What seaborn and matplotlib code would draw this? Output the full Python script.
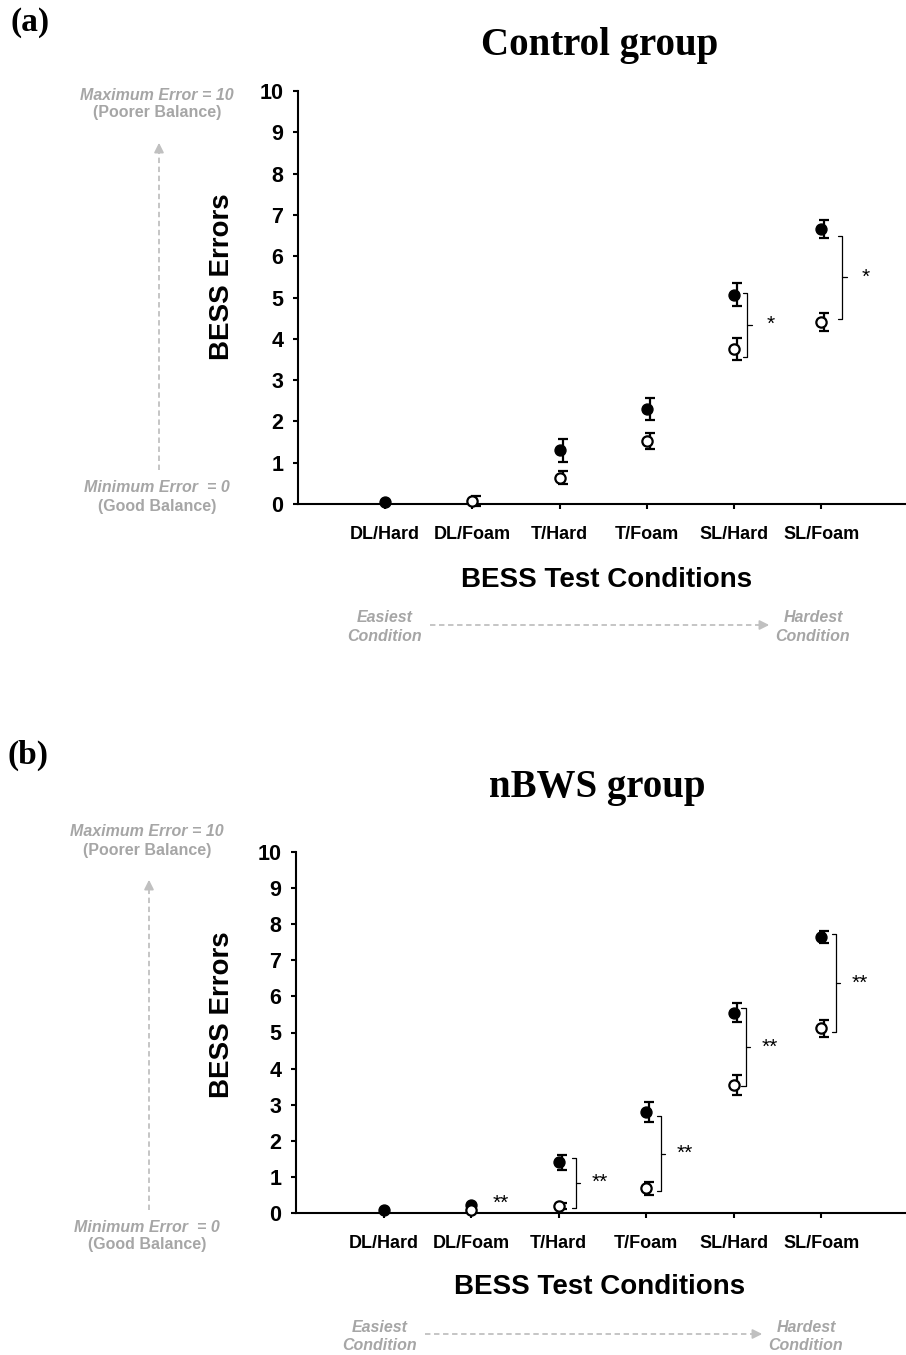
import numpy as np
import pandas as pd
import matplotlib
matplotlib.use('Agg')
import matplotlib.pyplot as plt
import seaborn as sns
from matplotlib.lines import Line2D

conditions = ['DL/Hard', 'DL/Foam', 'T/Hard', 'T/Foam', 'SL/Hard', 'SL/Foam']

# (a) Control group: mean BESS errors and SE, filled / open circles
ctrl_filled = [0.06, np.nan, 1.30, 2.30, 5.07, 6.65]
ctrl_filled_se = [np.nan, np.nan, 0.28, 0.26, 0.27, 0.22]
ctrl_open = [np.nan, 0.07, 0.64, 1.52, 3.75, 4.40]
ctrl_open_se = [np.nan, 0.12, 0.15, 0.19, 0.26, 0.22]

# (b) nBWS group
nbws_filled = [0.07, 0.23, 1.40, 2.80, 5.55, 7.65]
nbws_filled_se = [np.nan, np.nan, 0.20, 0.28, 0.27, 0.17]
nbws_open = [np.nan, 0.07, 0.20, 0.68, 3.55, 5.12]
nbws_open_se = [np.nan, np.nan, 0.09, 0.17, 0.27, 0.24]

# significance brackets: condition index, upper end, lower end, label
ctrl_sig_idx = [4, 5]
ctrl_sig_top = [5.12, 6.50]
ctrl_sig_bot = [3.57, 4.47]
ctrl_sig_lab = ['*', '*']
ctrl_sig_dx = [0.15, 0.24]

nbws_sig_idx = [2, 3, 4, 5]
nbws_sig_top = [1.53, 2.69, 5.68, 7.72]
nbws_sig_bot = [0.15, 0.60, 3.52, 5.01]
nbws_sig_lab = ['**', '**', '**', '**']
nbws_sig_dx = [0.20, 0.17, 0.14, 0.17]

W, H = 906, 1355
GREY_TXT = '#a6a6a6'
GREY_ARR = '#c0c0c0'

sns.set_style('ticks')
plt.rcParams['font.family'] = ['Liberation Sans', 'DejaVu Sans']
plt.rcParams['text.color'] = 'black'
plt.rcParams['axes.labelcolor'] = 'black'
plt.rcParams['xtick.color'] = 'black'
plt.rcParams['ytick.color'] = 'black'
plt.rcParams['axes.edgecolor'] = 'black'

fig = plt.figure(figsize=(W / 100, H / 100), dpi=100)


def fx(x):
    return x / W


def fy(y):
    return 1 - y / H


def draw_panel(ax, filled, filled_se, opn, opn_se, sig_idx, sig_dx, sig_top, sig_bot, sig_lab):
    pos = np.arange(1, len(conditions) + 1)
    df = pd.DataFrame({
        'pos': np.concatenate([pos, pos]),
        'errors': filled + opn,
        'se': filled_se + opn_se,
        'series': ['filled'] * len(pos) + ['open'] * len(pos),
    })
    bars = df.dropna(subset=['errors', 'se'])
    ax.errorbar(bars['pos'] + 0.035, bars['errors'], yerr=bars['se'], fmt='none',
                ecolor='black', elinewidth=1.6, capsize=3.6, capthick=1.6,
                clip_on=False, zorder=2)
    sns.scatterplot(data=df[df['series'] == 'filled'], x='pos', y='errors', ax=ax,
                    color='black', edgecolor='black', s=62, linewidth=1,
                    clip_on=False, zorder=3)
    sns.scatterplot(data=df[df['series'] == 'open'], x='pos', y='errors', ax=ax,
                    color='white', edgecolor='black', s=55, linewidth=1.6,
                    clip_on=False, zorder=4)

    for i, dx, top, bot, lab in zip(sig_idx, sig_dx, sig_top, sig_bot, sig_lab):
        x = pos[i] + dx
        arm = 0.05
        mid = (top + bot) / 2
        ax.plot([x - arm, x, x, x - arm], [top, top, bot, bot], color='black', lw=0.9,
                clip_on=False, zorder=2)
        ax.plot([x, x + arm], [mid, mid], color='black', lw=0.9, clip_on=False)
        ax.text(x + 0.27, mid, lab, ha='center', va='center', fontsize=15)

    ax.set_xlim(0, 6.97)
    ax.set_ylim(0, 10)
    ax.set_xticks(pos, conditions)
    ax.set_yticks(range(11))
    ax.set_xlabel('')
    ax.set_ylabel('')
    ax.tick_params(axis='x', direction='out', length=3.6, width=1.5, labelsize=13, pad=12)
    ax.tick_params(axis='y', direction='out', length=3.6, width=1.5, labelsize=15.5, pad=7)
    for t in ax.get_xticklabels() + ax.get_yticklabels():
        t.set_fontweight('bold')
    sns.despine(ax=ax)
    for s in ['left', 'bottom']:
        ax.spines[s].set_linewidth(1.5)
        ax.spines[s].set_color('black')


def side_notes(xc, y_max, y_min, arrow_top, arrow_bot):
    kw = dict(ha='center', va='center', fontsize=11.5, fontweight='bold', color=GREY_TXT)
    fig.text(fx(xc), fy(y_max), 'Maximum Error = 10', style='italic', **kw)
    fig.text(fx(xc), fy(y_max + 18), '(Poorer Balance)', **kw)
    fig.text(fx(xc), fy(y_min), 'Minimum Error  = 0', style='italic', **kw)
    fig.text(fx(xc), fy(y_min + 18), '(Good Balance)', **kw)
    ax_x = xc + 2
    fig.add_artist(Line2D([fx(ax_x), fx(ax_x)], [fy(arrow_bot), fy(arrow_top + 10)],
                          transform=fig.transFigure, color=GREY_ARR, lw=1.3, ls=(0, (3, 2))))
    fig.add_artist(matplotlib.patches.FancyArrowPatch(
        (fx(ax_x), fy(arrow_top + 12)), (fx(ax_x), fy(arrow_top)),
        transform=fig.transFigure, arrowstyle='-|>', mutation_scale=14,
        color=GREY_ARR, lw=1.3))


def bottom_notes(xl, xr, y, a0, a1):
    kw = dict(ha='center', va='center', fontsize=11.5, fontweight='bold', style='italic',
              color=GREY_TXT)
    fig.text(fx(xl), fy(y), 'Easiest', **kw)
    fig.text(fx(xl), fy(y + 18), 'Condition', **kw)
    fig.text(fx(xr), fy(y), 'Hardest', **kw)
    fig.text(fx(xr), fy(y + 18), 'Condition', **kw)
    ya = y + 7
    fig.add_artist(Line2D([fx(a0), fx(a1 - 10)], [fy(ya), fy(ya)],
                          transform=fig.transFigure, color=GREY_ARR, lw=1.3, ls=(0, (3, 2))))
    fig.add_artist(matplotlib.patches.FancyArrowPatch(
        (fx(a1 - 12), fy(ya)), (fx(a1), fy(ya)),
        transform=fig.transFigure, arrowstyle='-|>', mutation_scale=14,
        color=GREY_ARR, lw=1.3))


# panel (a)
ax1 = fig.add_axes([fx(298), fy(504), fx(906 - 298), (504 - 91) / H])
draw_panel(ax1, ctrl_filled, ctrl_filled_se, ctrl_open, ctrl_open_se,
           ctrl_sig_idx, ctrl_sig_dx, ctrl_sig_top, ctrl_sig_bot, ctrl_sig_lab)
ax1.text(-0.125, 0.55, 'BESS Errors', transform=ax1.transAxes, rotation=90,
         ha='center', va='center', fontsize=20, fontweight='bold')
ax1.text(0.508, -0.184, 'BESS Test Conditions', transform=ax1.transAxes,
         ha='center', va='center', fontsize=20, fontweight='bold')
fig.text(fx(600), fy(46), 'Control group', ha='center', va='center', fontsize=28,
         fontweight='bold', family=['Liberation Serif'])
fig.text(fx(30), fy(22), '(a)', ha='center', va='center', fontsize=24,
         fontweight='bold', family=['Liberation Serif'])
side_notes(157, 95, 488, 140, 470)
bottom_notes(385, 813, 618, 430, 772)

# panel (b)
ax2 = fig.add_axes([fx(296), fy(1213), fx(906 - 296), (1213 - 852) / H])
draw_panel(ax2, nbws_filled, nbws_filled_se, nbws_open, nbws_open_se,
           nbws_sig_idx, nbws_sig_dx, nbws_sig_top, nbws_sig_bot, nbws_sig_lab)
ax2.text(2.34, 0.28, '**', ha='center', va='center', fontsize=15)
ax2.text(-0.122, 0.548, 'BESS Errors', transform=ax2.transAxes, rotation=90,
         ha='center', va='center', fontsize=20, fontweight='bold')
ax2.text(0.498, -0.205, 'BESS Test Conditions', transform=ax2.transAxes,
         ha='center', va='center', fontsize=20, fontweight='bold')
fig.text(fx(597), fy(787), 'nBWS group', ha='center', va='center', fontsize=28,
         fontweight='bold', family=['Liberation Serif'])
fig.text(fx(28), fy(755), '(b)', ha='center', va='center', fontsize=24,
         fontweight='bold', family=['Liberation Serif'])
side_notes(147, 832, 1227, 877, 1210)
bottom_notes(380, 806, 1327, 425, 765)

fig.savefig('out.png', dpi=100)
